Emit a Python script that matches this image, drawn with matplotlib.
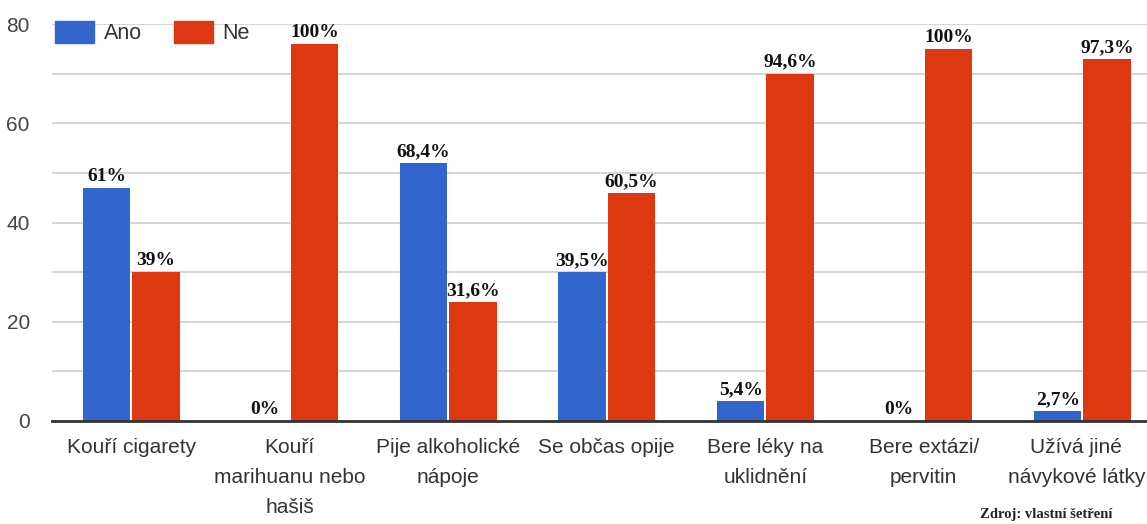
import matplotlib
matplotlib.use("Agg")
import matplotlib.pyplot as plt
import matplotlib.patches as mpatches
import matplotlib.transforms as mtransforms
import numpy as np

# Data (counts of respondents, labels as in the source)
categories = [
    "Kouří cigarety",
    "Kouří\nmarihuanu nebo\nhašiš",
    "Pije alkoholické\nnápoje",
    "Se občas opije",
    "Bere léky na\nuklidnění",
    "Bere extázi/\npervitin",
    "Užívá jiné\nnávykové látky",
]
ano_values = [47, 0, 52, 30, 4, 0, 2]
ne_values = [30, 76, 24, 46, 70, 75, 73]
ano_labels = ["61%", "0%", "68,4%", "39,5%", "5,4%", "0%", "2,7%"]
ne_labels = ["39%", "100%", "31,6%", "60,5%", "94,6%", "100%", "97,3%"]
series_names = ["Ano", "Ne"]

BLUE = "#3366cc"
RED = "#dc3912"

W, H = 1147, 524
fig = plt.figure(figsize=(W / 100, H / 100), dpi=100)
ax = fig.add_axes([52 / W, 103 / H, 1109.5 / W, 397 / H])

x = np.arange(len(categories))
bw = 0.3
off = 0.155
ax.bar(x - off, ano_values, bw, color=BLUE, zorder=3)
ax.bar(x + off, ne_values, bw, color=RED, zorder=3)

# value labels above bars
lab_font = dict(family="Liberation Serif", fontweight="bold", fontsize=14,
                color="#111111", ha="center", va="bottom", zorder=4)
for i in range(len(categories)):
    ax.text(x[i] - off, ano_values[i] + 0.6, ano_labels[i], **lab_font)
    ax.text(x[i] + off, ne_values[i] + 0.6, ne_labels[i], **lab_font)

ax.set_xlim(-0.5, len(categories) - 0.5)
ax.set_ylim(0, 80)
ax.set_yticks([0, 20, 40, 60, 80])
ax.set_yticks(np.arange(10, 80, 20), minor=True)
ax.grid(True, which="both", axis="y", color="#d0d0d0", linewidth=1.2, zorder=0)
ax.tick_params(axis="y", which="both", length=0, pad=16,
               labelsize=15, labelcolor="#444444")
ax.tick_params(axis="x", length=0, pad=12)
ax.set_xticks(x)
ax.set_xticklabels(categories, fontsize=15, color="#333333",
                   fontfamily="Liberation Sans", linespacing=1.75, va="top")
for lab in ax.get_yticklabels():
    lab.set_fontfamily("Liberation Sans")

# last label sits right at the edge; nudge it left so it is not clipped
last = ax.get_xticklabels()[-1]
last.set_transform(last.get_transform() +
                   mtransforms.ScaledTranslation(-6 / 100, 0, fig.dpi_scale_trans))

for s in ["left", "right", "top"]:
    ax.spines[s].set_visible(False)
ax.spines["bottom"].set_color("#333333")
ax.spines["bottom"].set_linewidth(2)
ax.spines["bottom"].set_zorder(5)

handles = [mpatches.Patch(color=BLUE, label=series_names[0]),
           mpatches.Patch(color=RED, label=series_names[1])]
leg = fig.legend(handles=handles, loc="upper left",
                 bbox_to_anchor=(36 / W, 1 - 2 / H), ncol=2, frameon=False,
                 handlelength=1.8, handleheight=1.15, handletextpad=0.45,
                 columnspacing=1.5,
                 prop={"family": "Liberation Sans", "size": 15.5})
for t in leg.get_texts():
    t.set_color("#333333")

# source note at the bottom right
fig.text(980 / W, 1 - 508 / H, "Zdroj: vlastní šetření", fontsize=10.5,
         fontfamily="Liberation Serif", fontweight="bold", color="#222222",
         ha="left", va="top")

fig.savefig("out.png", dpi=100)
